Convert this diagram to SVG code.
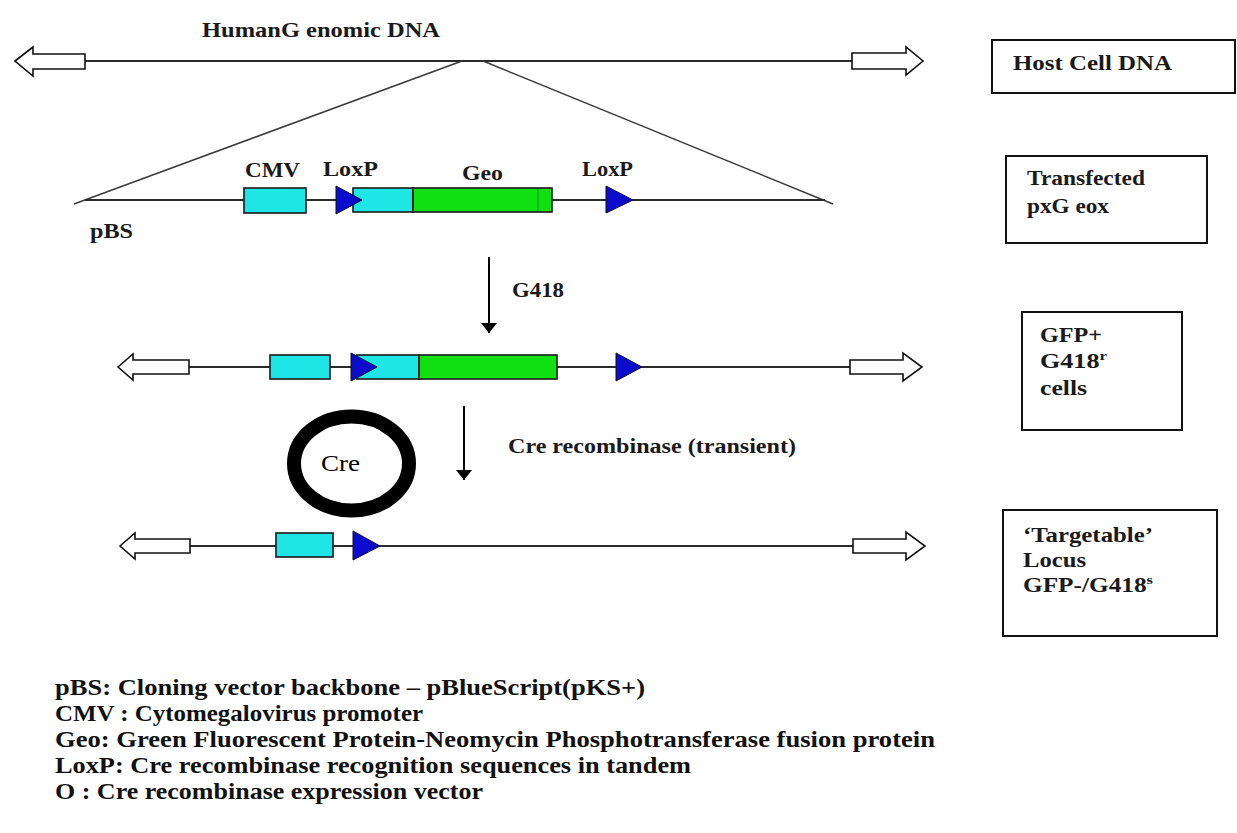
<svg xmlns="http://www.w3.org/2000/svg" width="1237" height="833" viewBox="0 0 1237 833">
<defs>
<style>
.dna{stroke:#2a2a2a;stroke-width:2;fill:none}
.tri{stroke:#3a3a3a;stroke-width:1.5;fill:none}
.blk{fill:#fff;stroke:#111;stroke-width:1.6}
.cmv{fill:#1ee6e6;stroke:#1a1a1a;stroke-width:1.6}
.geo{fill:#10e010;stroke:#1a1a1a;stroke-width:1.6}
.lox{fill:#0b0bd0;stroke:#111;stroke-width:1}
.box{fill:#fff;stroke:#111;stroke-width:2}
.lbl{font-family:'Liberation Serif','DejaVu Serif','Times New Roman',serif;font-weight:bold;font-size:20px;fill:#1a1a1a}
.leg{font-family:'Liberation Serif','DejaVu Serif','Times New Roman',serif;font-weight:bold;font-size:23px;fill:#111}
.cre{font-family:'Liberation Serif','DejaVu Serif','Times New Roman',serif;font-size:24px;fill:#000}
.conn{stroke:#000;stroke-width:2;fill:none}
</style>
<marker id="ah" viewBox="0 0 10 16" refX="10" refY="8" markerWidth="10" markerHeight="16" markerUnits="userSpaceOnUse" orient="auto">
<path d="M0,0 L10,8 L0,16 Z" fill="#000"/>
</marker>
</defs>
<rect width="1237" height="833" fill="#fff"/>

<g id="host-dna">
<line class="dna" x1="85" y1="61" x2="852" y2="61"/>
<polygon class="blk" points="15,61 33,47 33,54 85,54 85,69 33,69 33,76"/>
<polygon class="blk" points="852,53 906,53 906,47 923,61 906,75 906,69 852,69"/>
<text class="lbl" x="202" y="37" textLength="238" lengthAdjust="spacingAndGlyphs">HumanG enomic DNA</text>
</g>

<g id="insertion-lines">
<line class="tri" x1="462" y1="61" x2="74" y2="204"/>
<line class="tri" x1="483" y1="61" x2="833" y2="204"/>
</g>

<g id="pxgeox">
<line class="dna" x1="85" y1="200" x2="825" y2="200"/>
<rect class="cmv" x="244" y="188" width="62" height="25"/>
<rect class="cmv" x="353" y="188" width="60" height="24"/>
<rect class="geo" x="413" y="188" width="139" height="24"/>
<line x1="538" y1="189" x2="538" y2="211" stroke="#0a9a0a" stroke-width="1"/>
<polygon class="lox" points="336,186 362,200 336,214"/>
<polygon class="lox" points="606,186 633,200 606,213"/>
<text class="lbl" x="245" y="177" textLength="55" lengthAdjust="spacingAndGlyphs">CMV</text>
<text class="lbl" x="323" y="176" textLength="55" lengthAdjust="spacingAndGlyphs">LoxP</text>
<text class="lbl" x="462" y="180" textLength="41" lengthAdjust="spacingAndGlyphs">Geo</text>
<text class="lbl" x="582" y="176" textLength="51" lengthAdjust="spacingAndGlyphs">LoxP</text>
<text class="lbl" x="90" y="238" textLength="43" lengthAdjust="spacingAndGlyphs">pBS</text>
</g>

<g id="integrated">
<line class="dna" x1="189" y1="367" x2="850" y2="367"/>
<polygon class="blk" points="118,367 133,354 133,360 189,360 189,374 133,374 133,380"/>
<polygon class="blk" points="850,360 903,360 903,353 922,367 903,381 903,374 850,374"/>
<rect class="cmv" x="270" y="355" width="60" height="24"/>
<rect class="cmv" x="357" y="355" width="62" height="24"/>
<rect class="geo" x="419" y="355" width="138" height="24"/>
<polygon class="lox" points="351,353 377,367 351,381"/>
<polygon class="lox" points="616,353 642,367 616,381"/>
</g>

<g id="targetable">
<line class="dna" x1="190" y1="546" x2="853" y2="546"/>
<polygon class="blk" points="120,546 135,533 135,539 190,539 190,553 135,553 135,559"/>
<polygon class="blk" points="853,539 906,539 906,532 925,546 906,560 906,553 853,553"/>
<rect class="cmv" x="276" y="533" width="57" height="24"/>
<polygon class="lox" points="353,531 380,546 353,560"/>
</g>

<g id="cre-vector">
<ellipse cx="351.5" cy="463.5" rx="57.5" ry="47" fill="none" stroke="#000" stroke-width="14"/>
<text class="cre" x="321" y="471" textLength="39" lengthAdjust="spacingAndGlyphs">Cre</text>
</g>

<g id="connectors">
<line class="conn" x1="489" y1="257" x2="489" y2="333" marker-end="url(#ah)"/>
<line class="conn" x1="464" y1="406" x2="464" y2="480" marker-end="url(#ah)"/>
<text class="lbl" x="512" y="297" textLength="52" lengthAdjust="spacingAndGlyphs">G418</text>
<text class="lbl" x="508" y="453" textLength="288" lengthAdjust="spacingAndGlyphs">Cre recombinase (transient)</text>
</g>

<g id="box-host">
<rect class="box" x="992" y="40" width="243" height="53"/>
<text class="lbl" x="1013" y="70" textLength="159" lengthAdjust="spacingAndGlyphs" font-size="22">Host Cell DNA</text>
</g>
<g id="box-transfected">
<rect class="box" x="1006" y="156" width="201" height="87"/>
<text class="lbl" x="1027" y="185" textLength="118" lengthAdjust="spacingAndGlyphs">Transfected</text>
<text class="lbl" x="1027" y="213" textLength="82" lengthAdjust="spacingAndGlyphs">pxG eox</text>
</g>
<g id="box-gfp">
<rect class="box" x="1022" y="312" width="160" height="118"/>
<text class="lbl" x="1040" y="342" textLength="62" lengthAdjust="spacingAndGlyphs">GFP+</text>
<text class="lbl" x="1040" y="368" textLength="67" lengthAdjust="spacingAndGlyphs">G418<tspan font-size="13" dy="-8">r</tspan></text>
<text class="lbl" x="1040" y="395" textLength="47" lengthAdjust="spacingAndGlyphs">cells</text>
</g>
<g id="box-targetable">
<rect class="box" x="1003" y="510" width="214" height="126"/>
<text class="lbl" x="1023" y="542" textLength="130" lengthAdjust="spacingAndGlyphs">‘Targetable’</text>
<text class="lbl" x="1023" y="567" textLength="63" lengthAdjust="spacingAndGlyphs">Locus</text>
<text class="lbl" x="1023" y="592" textLength="130" lengthAdjust="spacingAndGlyphs">GFP-/G418<tspan font-size="13" dy="-8">s</tspan></text>
</g>

<g id="legend">
<text class="leg" x="55" y="695" textLength="590" lengthAdjust="spacingAndGlyphs">pBS: Cloning vector backbone – pBlueScript(pKS+)</text>
<text class="leg" x="55" y="721" textLength="368" lengthAdjust="spacingAndGlyphs">CMV : Cytomegalovirus promoter</text>
<text class="leg" x="55" y="747" textLength="880" lengthAdjust="spacingAndGlyphs">Geo: Green Fluorescent Protein-Neomycin Phosphotransferase fusion protein</text>
<text class="leg" x="55" y="773" textLength="636" lengthAdjust="spacingAndGlyphs">LoxP: Cre recombinase recognition sequences in tandem</text>
<text class="leg" x="55" y="799" textLength="428" lengthAdjust="spacingAndGlyphs">O : Cre recombinase expression vector</text>
</g>
</svg>
